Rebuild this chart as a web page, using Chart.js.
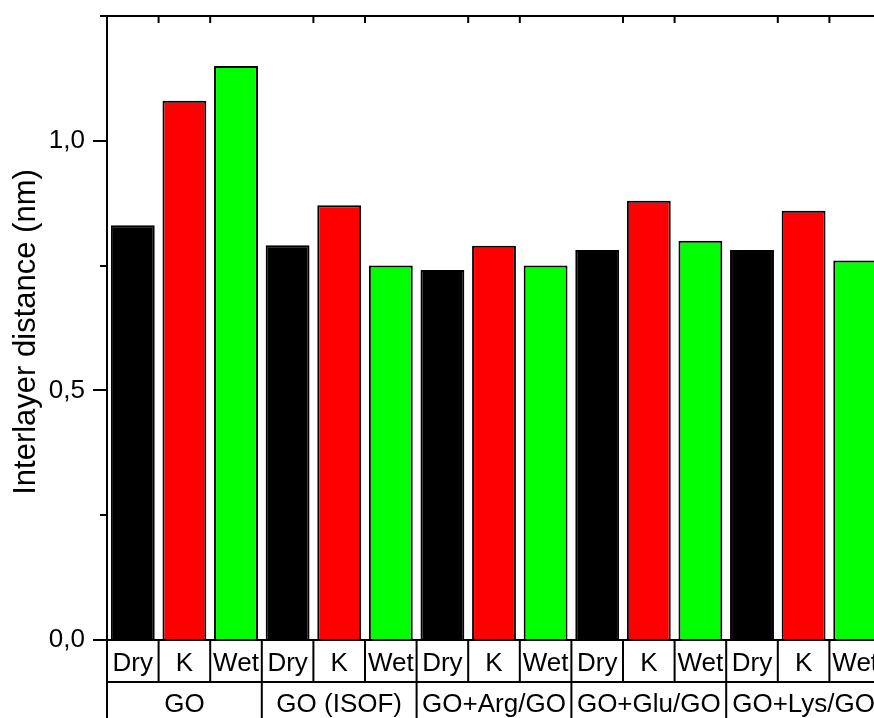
<!DOCTYPE html>
<html>
<head>
<meta charset="utf-8">
<script src="https://cdn.jsdelivr.net/npm/chart.js@4.4.1/dist/chart.umd.min.js"></script>
<style>
  html, body { margin: 0; padding: 0; background: #fff; overflow: hidden; }
  #wrap { width: 890px; height: 718px; }
</style>
</head>
<body>
<div id="wrap"><canvas id="chart-interlayer" width="890" height="718"></canvas></div>
<script>
const groups = ["GO", "GO (ISOF)", "GO+Arg/GO", "GO+Glu/GO", "GO+Lys/GO"];
const conditions = ["Dry", "K", "Wet"];
const conditionColors = ["#000000", "#ff0000", "#00ff00"];

const dryValues = [0.831, 0.791, 0.741, 0.781, 0.781];
const kValues = [1.08, 0.871, 0.79, 0.88, 0.86];
const wetValues = [1.15, 0.75, 0.75, 0.8, 0.76];

const yTitle = "Interlayer distance (nm)";
const yMin = 0;
const yMax = 1.25;
const yStep = 0.25;
const yLabelStep = 0.5;

// one slot per (group, condition) pair
const labels = [];
const values = [];
const colors = [];
groups.forEach((g, gi) => {
  [dryValues, kValues, wetValues].forEach((arr, ci) => {
    labels.push(conditions[ci]);
    values.push(arr[gi]);
    colors.push(conditionColors[ci]);
  });
});

const FONT = "'Liberation Sans', Arial, sans-serif";
Chart.defaults.font.family = FONT;
Chart.defaults.color = "#000";

const isLabelTick = (v) => Math.abs(v / yLabelStep - Math.round(v / yLabelStep)) < 1e-6;

// axis frame, category table and y title
const framePlugin = {
  id: "frame",
  afterDraw(chart) {
    const ctx = chart.ctx;
    const area = chart.chartArea;
    const x = chart.scales.x;
    const y = chart.scales.y;
    const n = labels.length;
    const slot = (x.getPixelForValue(n - 1) - x.getPixelForValue(0)) / (n - 1);
    const edge = (i) => x.getPixelForValue(i) - slot / 2;
    const row1 = area.bottom + 42;
    const h = chart.height;

    ctx.save();
    ctx.strokeStyle = "#000";
    ctx.lineWidth = 2;
    ctx.beginPath();
    // top axis
    ctx.moveTo(area.left - 7, area.top);
    ctx.lineTo(chart.width, area.top);
    for (let i = 1; i < n; i++) {
      if (i % 3 === 0) continue;
      ctx.moveTo(edge(i), area.top);
      ctx.lineTo(edge(i), area.top + 7);
    }
    // minor y ticks
    for (let v = yMin; v <= yMax + 1e-9; v += yStep) {
      if (isLabelTick(v)) continue;
      const py = Math.round(y.getPixelForValue(v));
      ctx.moveTo(area.left - 7, py);
      ctx.lineTo(area.left, py);
    }
    // table rows
    for (let i = 0; i <= n; i++) {
      ctx.moveTo(edge(i), area.bottom);
      ctx.lineTo(edge(i), row1);
    }
    ctx.moveTo(area.left, row1);
    ctx.lineTo(chart.width, row1);
    for (let g = 0; g <= groups.length; g++) {
      ctx.moveTo(edge(g * 3), row1);
      ctx.lineTo(edge(g * 3), h);
    }
    ctx.stroke();

    ctx.fillStyle = "#000";
    ctx.font = "26px " + FONT;
    ctx.textAlign = "center";
    ctx.textBaseline = "alphabetic";
    labels.forEach((lab, i) => {
      ctx.fillText(lab, x.getPixelForValue(i), area.bottom + 31);
    });
    groups.forEach((g, gi) => {
      const l = edge(gi * 3);
      const r = edge(gi * 3 + 3);
      ctx.save();
      ctx.beginPath();
      ctx.rect(l + 1, row1 + 1, r - l - 2, h - row1);
      ctx.clip();
      ctx.fillText(g, (l + r) / 2, row1 + 30);
      ctx.restore();
    });

    ctx.font = "31px " + FONT;
    ctx.translate(35, (area.top + area.bottom) / 2 + 4);
    ctx.rotate(-Math.PI / 2);
    ctx.fillText(yTitle, 0, 0);
    ctx.restore();
  },
};

const chartInterlayer = document.querySelector("#chart-interlayer").getContext("2d");

new Chart(chartInterlayer, {
  type: "bar",
  data: {
    labels: labels,
    datasets: [
      {
        data: values,
        backgroundColor: colors,
        borderColor: "#000",
        borderWidth: 2,
        categoryPercentage: 1,
        barPercentage: 0.85,
      },
    ],
  },
  options: {
    responsive: false,
    animation: false,
    layout: { padding: { left: 0, right: 9, top: 16, bottom: 0 } },
    plugins: {
      legend: { display: false },
      tooltip: { enabled: false },
    },
    scales: {
      x: {
        offset: true,
        grid: { display: false },
        ticks: { display: false },
        border: { display: true, color: "#000", width: 2 },
        afterFit: (s) => { s.height = 78; },
      },
      y: {
        min: yMin,
        max: yMax,
        ticks: {
          stepSize: yStep,
          padding: 8,
          font: { size: 26 },
          color: "#000",
          callback: (v) => (isLabelTick(v) ? v.toFixed(1).replace(".", ",") : ""),
        },
        grid: {
          drawOnChartArea: false,
          tickLength: 14,
          lineWidth: 2,
          color: (c) => (c.tick && isLabelTick(c.tick.value) ? "#000" : "rgba(0,0,0,0)"),
        },
        border: { display: true, color: "#000", width: 2 },
        afterFit: (s) => {
          s.width = 107;
          s.paddingTop = 0;
          s.paddingBottom = 0;
        },
      },
    },
  },
  plugins: [framePlugin],
});
</script>
</body>
</html>
